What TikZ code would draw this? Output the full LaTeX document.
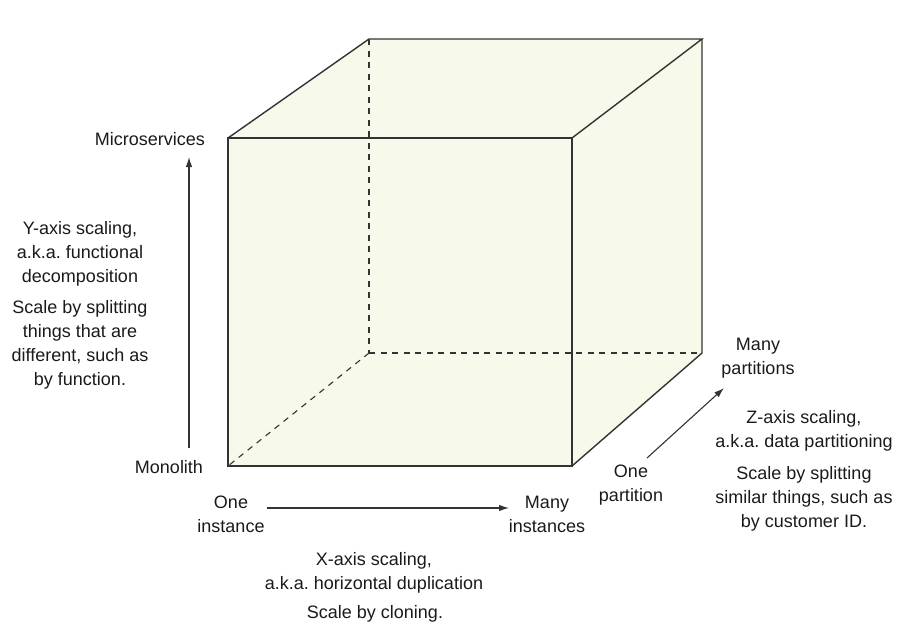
\documentclass[tikz,border=0pt]{standalone}
\usepackage{fontspec}
\setmainfont{Liberation Sans}
\frenchspacing
\usetikzlibrary{arrows.meta}
\definecolor{cubefill}{HTML}{F7F9EB}
\definecolor{edge}{HTML}{333333}
\definecolor{txt}{HTML}{1A1A1A}
\tikzset{
  lbl/.style={inner sep=0pt, align=center, text=txt, font=\fontsize{18}{24}\selectfont\frenchspacing},
  solidedge/.style={draw=edge, line width=1.4pt, line join=miter},
  hiddenedge/.style={draw=edge, line width=1.1pt, dash pattern=on 6pt off 5.5pt},
  axisarrow/.style={draw=edge, line width=1.1pt, -{Latex[length=10pt,width=6.5pt]}}
}
\begin{document}
\begin{tikzpicture}[x=1pt,y=-1pt]
\useasboundingbox (0,0) rectangle (908,630);
% cube corners
\coordinate (ftl) at (228,138);
\coordinate (ftr) at (572,138);
\coordinate (fbl) at (228,466);
\coordinate (fbr) at (572,466);
\coordinate (btl) at (369,39);
\coordinate (btr) at (702,39);
\coordinate (bbl) at (369,353);
\coordinate (bbr) at (702,353);
% fill
\fill[cubefill] (ftl) -- (btl) -- (btr) -- (bbr) -- (fbr) -- (fbl) -- cycle;
% hidden edges
\draw[hiddenedge] (btl) -- (bbl);
\draw[hiddenedge] (bbl) -- (bbr);
\draw[hiddenedge] (bbl) -- (fbl);
% visible edges
\draw[solidedge] (ftl) rectangle (fbr);
\draw[solidedge] (ftl) -- (btl) -- (btr) -- (ftr);
\draw[solidedge] (btr) -- (bbr) -- (fbr);
% Y axis
\node[lbl] (micro) at (150,139) {Microservices};
\node[lbl] (mono) at (169,467) {Monolith};
\coordinate (ya) at (189,448);
\coordinate (yb) at (189,157);
\draw[axisarrow] (ya) -- (yb);
\node[lbl] (ytitle) at (80,254) {Y-axis scaling,\\a.k.a. functional\\decomposition};
\node[lbl] (ydesc) at (80,345) {Scale by splitting\\things that are\\different, such as\\by function.};
% X axis
\node[lbl] (oneinst) at (231,514) {One\\instance};
\node[lbl] (manyinst) at (547,514) {Many\\instances};
\coordinate (xa) at (267,508);
\coordinate (xb) at (509,508);
\draw[axisarrow] (xa) -- (xb);
\node[lbl] (xtitle) at (374,573) {X-axis scaling,\\a.k.a. horizontal duplication};
\node[lbl] (xdesc) at (375,614) {Scale by cloning.};
% Z axis
\node[lbl] (onepart) at (631,485) {One\\partition};
\node[lbl] (manypart) at (758,358) {Many\\partitions};
\coordinate (za) at (647,458);
\coordinate (zb) at (724,388);
\draw[axisarrow] (za) -- (zb);
\node[lbl] (ztitle) at (804,431) {Z-axis scaling,\\a.k.a. data partitioning};
\node[lbl] (zdesc) at (804,499) {Scale by splitting\\similar things, such as\\by customer ID.};
\end{tikzpicture}
\end{document}
